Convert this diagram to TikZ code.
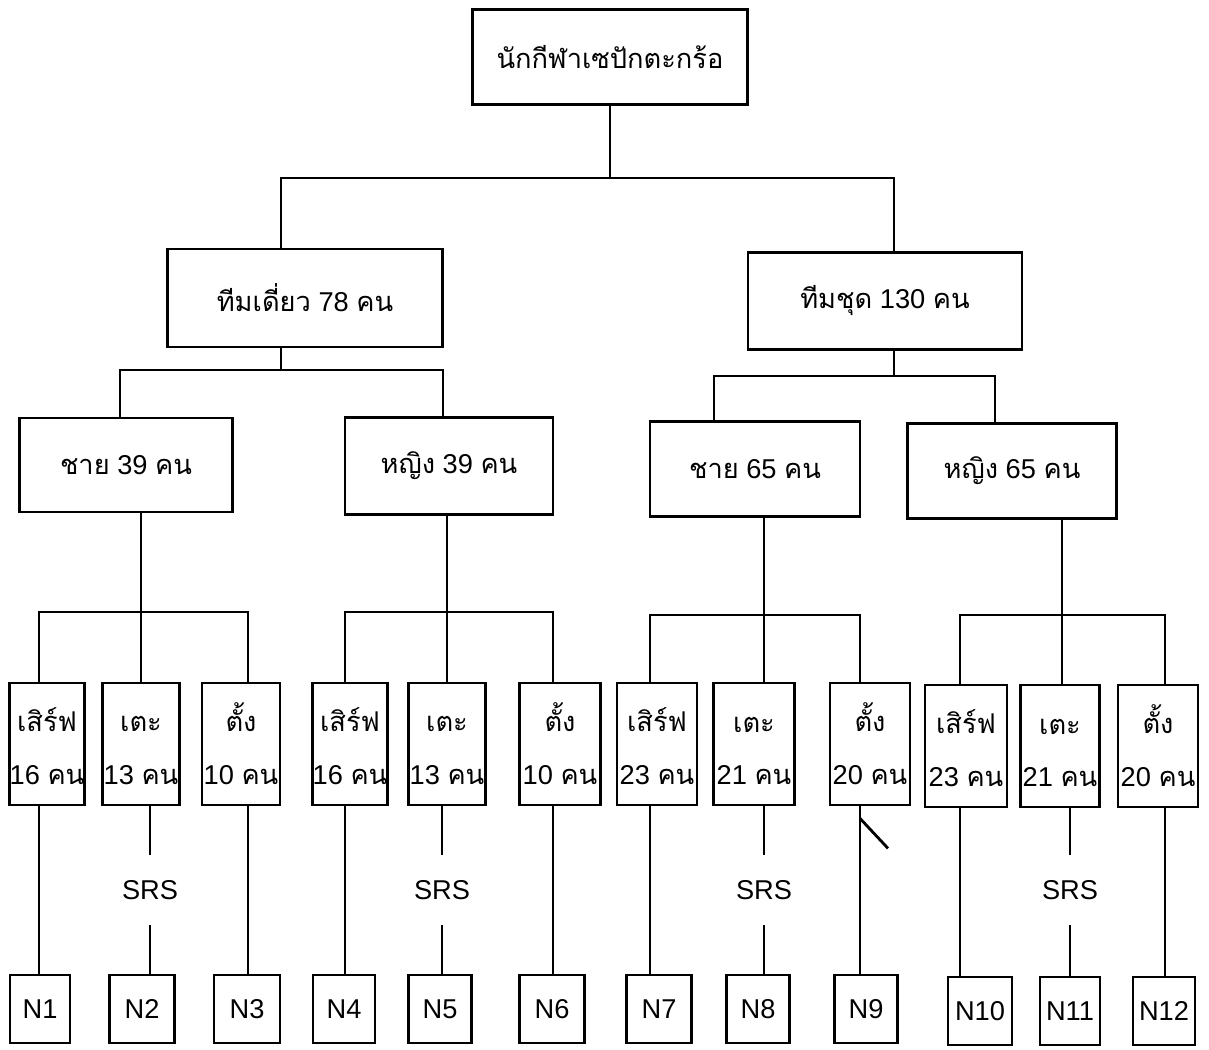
\documentclass[tikz,border=0pt]{standalone}
\usepackage{fontspec}
\setmainfont{Liberation Sans}
\newfontfamily\thaifont[Script=Thai]{Loma}
\newcommand\tht[1]{{\thaifont #1}}
\newcommand\lf[2]{\tht{#1}\vphantom{\tht{ตั้ง}}\\#2 \tht{คน}}
\usetikzlibrary{calc}

\begin{document}
\begin{tikzpicture}[x=0.02cm, y=-0.02cm,
    box/.style={draw, line width=1.6pt, inner sep=0pt, align=center,
      font=\fontsize{15.5}{30}\selectfont},
    leaf/.style={box, minimum height=2.44cm},
    nbox/.style={box, minimum height=1.36cm},
    srs/.style={inner sep=0pt, minimum height=1.4cm, font=\fontsize{15.5}{20}\selectfont},
    wire/.style={line width=1.1pt}]
	%%%%% START %%%%%

	\useasboundingbox (0,0) rectangle (1209,1049);

	% top levels
	\node[box, minimum width=5.5cm, minimum height=1.9cm] (root) at (610,57) {\tht{นักกีฬาเซปักตะกร้อ}};
	\node[box, minimum width=5.5cm, minimum height=1.96cm] (single) at (305,298) {\tht{ทีมเดี่ยว} 78 \tht{คน}};
	\node[box, minimum width=5.48cm, minimum height=1.94cm] (team) at (885,301) {\tht{ทีมชุด} 130 \tht{คน}};

	\node[box, minimum width=4.26cm, minimum height=1.88cm] (m39) at (126,465) {\tht{ชาย} 39 \tht{คน}};
	\node[box, minimum width=4.16cm, minimum height=1.94cm] (f39) at (449,466) {\tht{หญิง} 39 \tht{คน}};
	\node[box, minimum width=4.2cm, minimum height=1.9cm] (m65) at (755,469) {\tht{ชาย} 65 \tht{คน}};
	\node[box, minimum width=4.18cm, minimum height=1.9cm] (f65) at (1012,471) {\tht{หญิง} 65 \tht{คน}};

	% leaves
	\node[leaf, minimum width=1.5cm] (l1) at (47,744) {\lf{เสิร์ฟ}{16}};
	\node[leaf, minimum width=1.54cm] (l2) at (141,744) {\lf{เตะ}{13}};
	\node[leaf, minimum width=1.56cm] (l3) at (241,744) {\lf{ตั้ง}{10}};
	\node[leaf, minimum width=1.5cm] (l4) at (350,744) {\lf{เสิร์ฟ}{16}};
	\node[leaf, minimum width=1.54cm] (l5) at (447,744) {\lf{เตะ}{13}};
	\node[leaf, minimum width=1.62cm] (l6) at (560,744) {\lf{ตั้ง}{10}};
	\node[leaf, minimum width=1.6cm] (l7) at (657,744) {\lf{เสิร์ฟ}{23}};
	\node[leaf, minimum width=1.62cm] (l8) at (754,744) {\lf{เตะ}{21}};
	\node[leaf, minimum width=1.6cm] (l9) at (870,744) {\lf{ตั้ง}{20}};
	\node[leaf, minimum width=1.64cm] (l10) at (966,746) {\lf{เสิร์ฟ}{23}};
	\node[leaf, minimum width=1.58cm] (l11) at (1060,746) {\lf{เตะ}{21}};
	\node[leaf, minimum width=1.6cm] (l12) at (1158,746) {\lf{ตั้ง}{20}};

	% samples
	\node[nbox, minimum width=1.2cm] (n1) at (40,1009) {N1};
	\node[nbox, minimum width=1.3cm] (n2) at (142,1009) {N2};
	\node[nbox, minimum width=1.32cm] (n3) at (247,1009) {N3};
	\node[nbox, minimum width=1.24cm] (n4) at (344,1009) {N4};
	\node[nbox, minimum width=1.26cm] (n5) at (440,1009) {N5};
	\node[nbox, minimum width=1.3cm] (n6) at (552,1009) {N6};
	\node[nbox, minimum width=1.3cm] (n7) at (659,1009) {N7};
	\node[nbox, minimum width=1.26cm] (n8) at (758,1009) {N8};
	\node[nbox, minimum width=1.26cm] (n9) at (866,1009) {N9};
	\node[nbox, minimum width=1.28cm] (n10) at (980,1011) {N10};
	\node[nbox, minimum width=1.2cm] (n11) at (1070,1011) {N11};
	\node[nbox, minimum width=1.24cm] (n12) at (1164,1011) {N12};

	\node[srs] (s2) at (150,890) {SRS};
	\node[srs] (s5) at (442,890) {SRS};
	\node[srs] (s8) at (764,890) {SRS};
	\node[srs] (s11) at (1070,890) {SRS};

	% bus points
	\coordinate (t1) at (281,178);
	\coordinate (t2) at (894,178);
	\coordinate (a1) at (120,370);
	\coordinate (a2) at (443,370);
	\coordinate (a3) at (714,376);
	\coordinate (a4) at (995,376);
	\coordinate (b1) at (39,612);
	\coordinate (b2) at (141,612);
	\coordinate (b3) at (248,612);
	\coordinate (b4) at (345,612);
	\coordinate (b5) at (447,612);
	\coordinate (b6) at (553,612);
	\coordinate (b7) at (650,615);
	\coordinate (b8) at (764,615);
	\coordinate (b9) at (860,615);
	\coordinate (b10) at (960,615);
	\coordinate (b11) at (1062,615);
	\coordinate (b12) at (1165,615);

	% connectors
	\draw[wire] (root.south) -- (root.south |- t1);
	\draw[wire] (t1 |- single.north) -- (t1) -- (t2) -- (t2 |- team.north);

	\draw[wire] (t1 |- single.south) -- (t1 |- a1);
	\draw[wire] (a1 |- m39.north) -- (a1) -- (a2) -- (a2 |- f39.north);
	\draw[wire] (t2 |- team.south) -- (t2 |- a3);
	\draw[wire] (a3 |- m65.north) -- (a3) -- (a4) -- (a4 |- f65.north);

	\draw[wire] (b2 |- m39.south) -- (b2);
	\draw[wire] (b5 |- f39.south) -- (b5);
	\draw[wire] (b8 |- m65.south) -- (b8);
	\draw[wire] (b11 |- f65.south) -- (b11);

	\draw[wire] (b1 |- l1.north) -- (b1) -- (b3) -- (b3 |- l3.north);
	\draw[wire] (b2) -- (b2 |- l2.north);
	\draw[wire] (b4 |- l4.north) -- (b4) -- (b6) -- (b6 |- l6.north);
	\draw[wire] (b5) -- (b5 |- l5.north);
	\draw[wire] (b7 |- l7.north) -- (b7) -- (b9) -- (b9 |- l9.north);
	\draw[wire] (b8) -- (b8 |- l8.north);
	\draw[wire] (b10 |- l10.north) -- (b10) -- (b12) -- (b12 |- l12.north);
	\draw[wire] (b11) -- (b11 |- l11.north);

	\foreach \i in {1,3,4,6,7,9,10,12}
	  \draw[wire] (b\i |- l\i.south) -- (b\i |- n\i.north);
	\foreach \i in {2,5,8,11} {
	  \draw[wire] (s\i.north |- l\i.south) -- (s\i.north);
	  \draw[wire] (s\i.south) -- (s\i.south |- n\i.north);
	}

	% stray stroke under the 20-box
	\draw[line width=1.6pt] ($(b9 |- l9.south)+(0,12)$) -- ++(28,30);

	%%%%% END %%%%%
\end{tikzpicture}
\end{document}
